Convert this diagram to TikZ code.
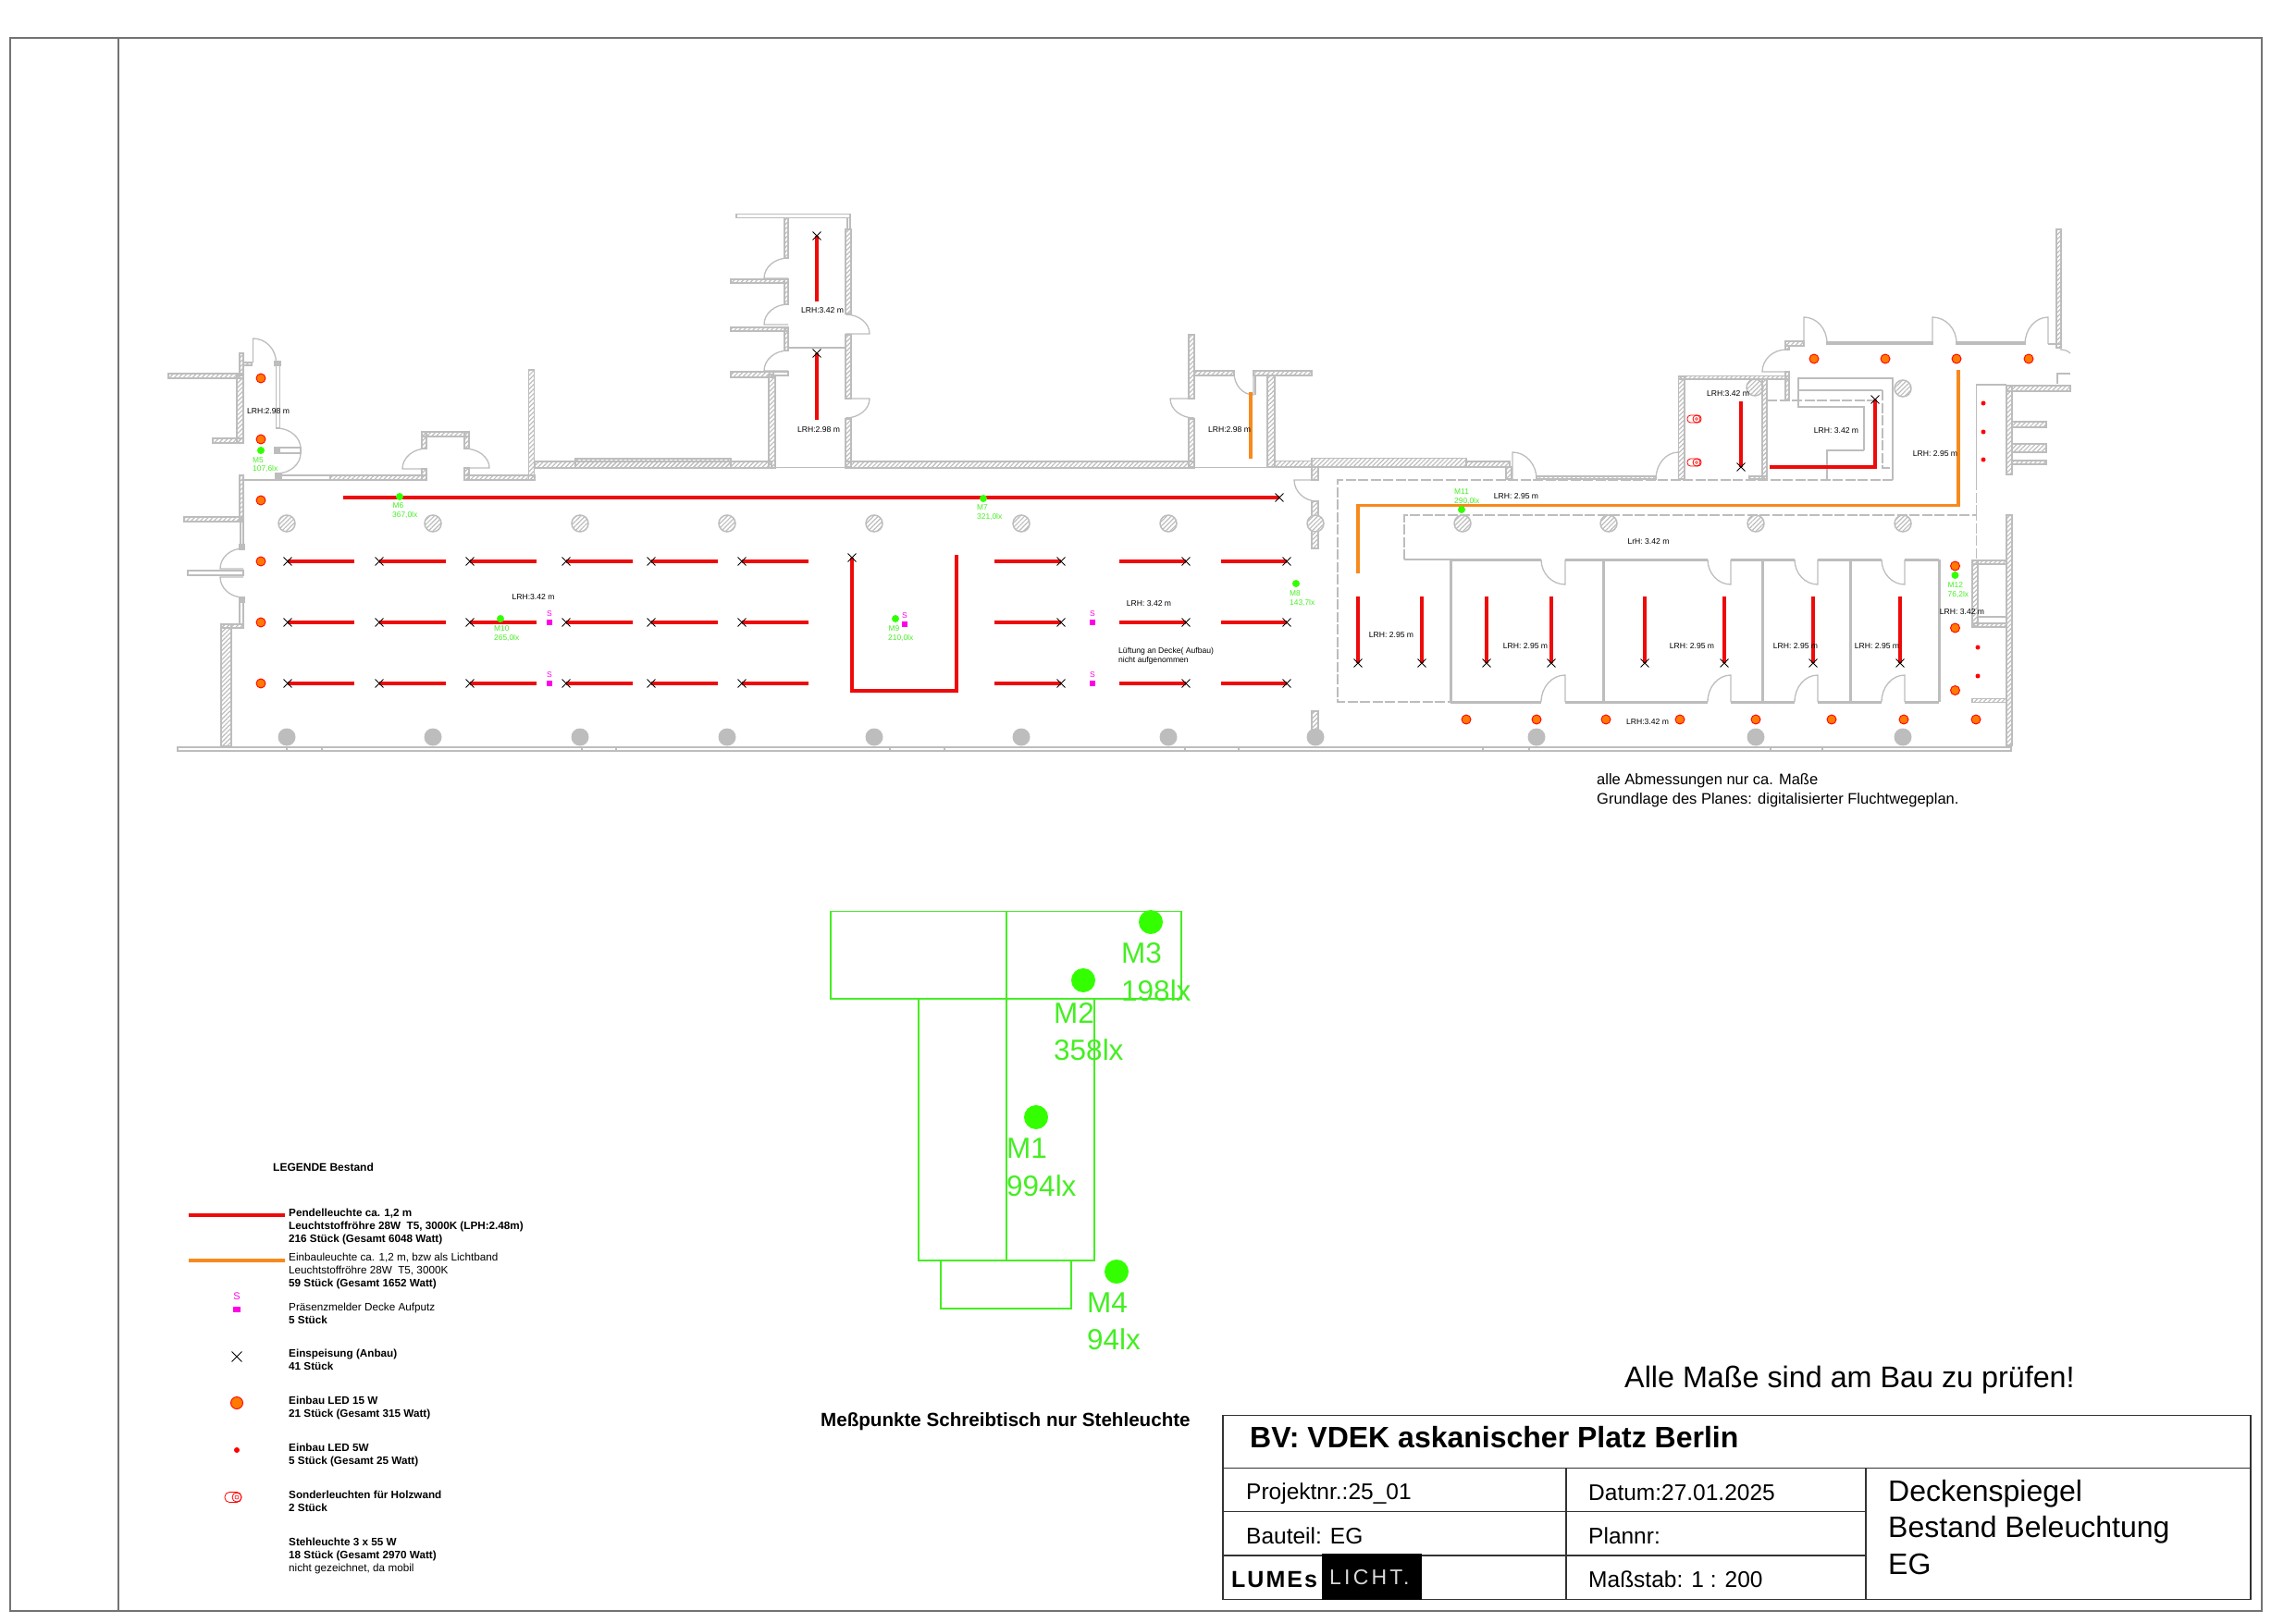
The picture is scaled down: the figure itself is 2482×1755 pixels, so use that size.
\documentclass[tikz,border=0pt]{standalone}
\usepackage{fontspec}
\setmainfont{Liberation Sans}
\usetikzlibrary{shapes,patterns.meta}
\definecolor{wallgray}{HTML}{BDBDBD}
\definecolor{lampred}{HTML}{EE0A0A}
\definecolor{lamporange}{HTML}{F78A1E}
\definecolor{ledorange}{HTML}{FF7A00}
\definecolor{mgreen}{HTML}{33FF00}
\definecolor{tgreen}{HTML}{44EE22}
\definecolor{smagenta}{HTML}{FF00E6}
\tikzstyle{wall}=[
	draw=wallgray,
	line width=1.5pt,
	pattern={Lines[angle=45,distance=3.5pt,line width=1.2pt]},
	pattern color=wallgray
]
\tikzstyle{pane}=[
	draw=wallgray,
	line width=1.4pt,
	fill=white
]
\tikzstyle{door}=[
	draw=wallgray,
	line width=1.3pt
]
\tikzstyle{thinline}=[
	draw=wallgray,
	line width=1.5pt
]
\tikzstyle{zone}=[
	draw=wallgray,
	line width=1.5pt,
	dash pattern=on 11pt off 2.5pt
]
\tikzstyle{office}=[
	draw=wallgray,
	line width=3pt
]
\tikzstyle{pendel}=[
	draw=lampred,
	line width=3.6pt
]
\tikzstyle{einbau}=[
	draw=lamporange,
	line width=3.6pt
]
\tikzstyle{feed}=[
	cross out,
	draw=black,
	line width=0.9pt,
	minimum size=8pt,
	inner sep=0pt
]
\tikzstyle{led}=[
	circle,
	draw=red,
	fill=ledorange,
	line width=0.9pt,
	minimum size=10pt,
	inner sep=0pt
]
\tikzstyle{dotled}=[
	circle,
	fill=red,
	minimum size=5pt,
	inner sep=0pt
]
\tikzstyle{hatchcol}=[
	circle,
	draw=wallgray,
	line width=1.5pt,
	minimum size=18pt,
	inner sep=0pt,
	pattern={Lines[angle=45,distance=3.5pt,line width=1.2pt]},
	pattern color=wallgray
]
\tikzstyle{fullcol}=[
	circle,
	fill=wallgray,
	minimum size=19pt,
	inner sep=0pt
]
\tikzstyle{mdot}=[
	circle,
	fill=mgreen,
	minimum size=8pt,
	inner sep=0pt
]
\tikzstyle{bigdot}=[
	circle,
	fill=mgreen,
	minimum size=26pt,
	inner sep=0pt
]
\tikzstyle{sensor}=[
	fill=smagenta,
	minimum size=6pt,
	inner sep=0pt
]
\tikzstyle{slabel}=[
	text=smagenta,
	inner sep=0pt,
	font=\fontsize{8.5}{8.5}\selectfont
]
\tikzstyle{mlabel}=[
	text=tgreen,
	anchor=west,
	inner sep=0pt,
	yshift=-1.5pt,
	font=\fontsize{8.4}{8.4}\selectfont
]
\tikzstyle{biglabel}=[
	text=tgreen,
	anchor=west,
	inner sep=0pt,
	yshift=-2pt,
	font=\fontsize{31.5}{31.5}\selectfont
]
\tikzstyle{lrh}=[
	inner sep=0pt,
	yshift=-1.5pt,
	font=\fontsize{8.6}{8.6}\selectfont
]
\tikzstyle{legtext}=[
	anchor=north west,
	align=left,
	inner sep=0pt,
	yshift=-2pt,
	font=\fontsize{11.7}{14}\selectfont
]
\tikzstyle{cell}=[
	anchor=west,
	inner sep=0pt,
	font=\fontsize{24.5}{24.5}\selectfont
]
\tikzstyle{desk}=[
	draw=tgreen,
	line width=1.2pt
]
\tikzstyle{block}=[
	draw=black!80,
	line width=1.3pt
]
\begin{document}
\begin{tikzpicture}[x=1pt,y=-1pt]
\useasboundingbox (0,0) rectangle (2482,1755);

\draw[line width=1.5pt,draw=black!55] (11,41) rectangle (2445,1742);
\draw[line width=1.5pt,draw=black!55] (128,41) -- (128,1742);

\draw[wall] (182,404) rectangle (263,409);
\draw[wall] (256,406) rectangle (263,479);
\draw[wall] (230,474) rectangle (263,479);
\draw[wall] (259,382) rectangle (263,405);
\draw[wall] (263,392) rectangle (272,395);
\draw[pane] (298.5,391.5) rectangle (302.5,463);
\draw[door] (273.5,392) -- ++(0,-26) arc[start angle=-90,end angle=0,x radius=25,y radius=26];
\draw[door] (299,485) -- ++(26,0) arc[start angle=0,end angle=-90,x radius=26,y radius=22];
\draw[door] (299,490) -- ++(26,0) arc[start angle=0,end angle=90,x radius=26,y radius=22];
\draw[pane] (299,484) rectangle (325,490);
\draw[thinline,fill=wallgray] (298,512) rectangle (304,519);
\draw[thinline,fill=wallgray] (297,391) rectangle (303,395);
\draw[thinline,fill=wallgray] (297,484) rectangle (302,490);
\draw[pane] (304,514) rectangle (357,519);
\draw[wall] (357,514) rectangle (461,519);
\draw[thinline] (261,519) -- (299,519);
\draw[wall] (259,514) rectangle (263,564);
\draw[wall] (199,559) rectangle (261,564);
\draw[pane] (260,564) rectangle (263,592);
\draw[door] (263,615) -- ++(-25,0) arc[start angle=180,end angle=270,x radius=25,y radius=22];
\draw[door] (263,624) -- ++(-25,0) arc[start angle=180,end angle=90,x radius=25,y radius=22];
\draw[pane] (203,617) rectangle (263,622);
\draw[thinline,fill=wallgray] (259,589) rectangle (264,594);
\draw[thinline,fill=wallgray] (259,646) rectangle (264,651);
\draw[pane] (259,651) rectangle (263,675);
\draw[wall] (239,675) rectangle (263,679);
\draw[wall] (239,675) rectangle (250,807);
\draw[pane] (192,808) rectangle (2174,812);
\draw[thinline] (310,808) -- (310,812);
\draw[thinline] (348,808) -- (348,812);
\draw[thinline] (629,808) -- (629,812);
\draw[thinline] (666,808) -- (666,812);
\draw[thinline] (962,808) -- (962,812);
\draw[thinline] (1021,808) -- (1021,812);
\draw[thinline] (1281,808) -- (1281,812);
\draw[thinline] (1339,808) -- (1339,812);
\draw[thinline] (1603,808) -- (1603,812);
\draw[thinline] (1653,808) -- (1653,812);
\draw[thinline] (1914,808) -- (1914,812);
\draw[thinline] (1970,808) -- (1970,812);

\draw[wall] (456,467) rectangle (461,485);
\draw[wall] (456,507) rectangle (461,519);
\draw[wall] (456,467) rectangle (507,472);
\draw[wall] (502,467) rectangle (507,485);
\draw[door] (461,507) -- ++(-26,0) arc[start angle=180,end angle=270,x radius=26,y radius=22];
\draw[door] (502,506) -- ++(27,0) arc[start angle=0,end angle=-90,x radius=27,y radius=21];
\draw[wall] (502,506) rectangle (507,519);
\draw[wall] (502,514) rectangle (578,519);
\draw[wall] (571.5,400) rectangle (577.5,519);
\draw[wall] (578,499) rectangle (834,506);
\draw[wall] (622,496) rectangle (790,506);
\draw[wall] (831,405) rectangle (838,506);
\draw[wall] (790,402) rectangle (836,408);
\draw[pane] (836,402) rectangle (852,406);
\draw[wall] (790,354) rectangle (852,358);
\draw[wall] (790,302) rectangle (852,306);
\draw[wall] (848,234) rectangle (852,279);
\draw[wall] (848,302) rectangle (852,329);
\draw[wall] (848,354) rectangle (852,379);
\draw[door] (852,301) -- ++(-26,0) arc[start angle=180,end angle=270,x radius=26,y radius=22];
\draw[door] (852,351) -- ++(-26,0) arc[start angle=180,end angle=270,x radius=26,y radius=22];
\draw[door] (852,401) -- ++(-26,0) arc[start angle=180,end angle=270,x radius=26,y radius=22];
\draw[pane] (796,231.5) rectangle (919,235.5);
\draw[pane] (916,235.5) rectangle (919,248);
\draw[wall] (914,248) rectangle (920,339);
\draw[door] (914,361) -- ++(26,0) arc[start angle=0,end angle=-90,x radius=26,y radius=21];
\draw[wall] (914,362) rectangle (920,431);
\draw[thinline] (852,376) -- (914,376);
\draw[door] (914,431) -- ++(26,0) arc[start angle=0,end angle=90,x radius=26,y radius=21];
\draw[wall] (914,453) rectangle (920,505);
\draw[wall] (914,499) rectangle (1291,506);
\draw[thinline] (838,505.5) -- (914,505.5);

\draw[wall] (1285,362) rectangle (1291,431);
\draw[door] (1291,431) -- ++(-26,0) arc[start angle=180,end angle=90,x radius=26,y radius=21];
\draw[wall] (1285,453) rectangle (1291,505);
\draw[wall] (1291,401) rectangle (1334,406);
\draw[door] (1355,403) -- ++(0,24) arc[start angle=90,end angle=180,x radius=21,y radius=24];
\draw[thinline] (1357,406) -- (1357,427);
\draw[wall] (1355,401) rectangle (1418,406);
\draw[wall] (1370,406) rectangle (1378,505);
\draw[thinline] (1291,505.5) -- (1369,505.5);
\draw[wall] (1378,498.5) rectangle (1418,505);
\draw[wall] (1418,495.5) rectangle (1585,505);
\draw[wall] (1585,499) rectangle (1632,505);
\draw[wall] (1418,505) rectangle (1425,519);
\draw[wall] (1628,505) rectangle (1634,518);
\draw[door] (1424,519) -- ++(-25,0) arc[start angle=180,end angle=90,x radius=25,y radius=23];
\draw[wall] (1418,542) rectangle (1425,593);
\node[fullcol,fill=white] (c0a) at (1422,566) {};
\node[hatchcol] (c0) at (1422,566) {};
\draw[wall] (1418,769) rectangle (1425,797);

\draw[door] (1635,518) -- ++(0,-29) arc[start angle=-90,end angle=0,x radius=26,y radius=29];
\draw[wall] (1661,515) rectangle (1790,518);
\draw[door] (1814.5,518) -- ++(0,-29) arc[start angle=-90,end angle=-180,x radius=24.5,y radius=29];
\draw[wall] (1814.5,407) rectangle (1821,518);
\draw[wall] (1814.5,406.5) rectangle (1934,410);
\draw[wall] (1905,410) rectangle (1910,518);
\draw[wall] (1891,515) rectangle (1910,518);
\draw[wall] (1930,369) rectangle (1950,374);
\draw[wall] (1930,374) rectangle (1934,378);
\draw[door] (1931,402) -- ++(-26,0) arc[start angle=180,end angle=270,x radius=26,y radius=24];
\draw[wall] (1930,402) rectangle (1934,433);
\draw[door] (1950,371) -- ++(0,-28) arc[start angle=-90,end angle=0,x radius=25,y radius=28];
\draw[pane] (1975,370) rectangle (2089,372);
\draw[door] (2089,371) -- ++(0,-28) arc[start angle=-90,end angle=0,x radius=26,y radius=28];
\draw[pane] (2115,370) rectangle (2189,372);
\draw[door] (2214,372) -- ++(0,-29) arc[start angle=-90,end angle=-180,x radius=25,y radius=29];
\draw[wall] (2223,248) rectangle (2228,376);
\draw[thinline] (2214,372) -- (2227,372);
\draw[door] (2227,378) .. controls (2231,378) and (2235,379) .. (2238,382);
\draw[thinline] (2224,415) -- (2224,404) -- (2238,404);
\draw[wall] (2169,417) rectangle (2238,423);
\draw[wall] (2169,417) rectangle (2175,513);
\draw[wall] (2175,456) rectangle (2212,462);
\draw[wall] (2175,480) rectangle (2212,489);
\draw[wall] (2175,498) rectangle (2212,502);
\draw[thinline] (2169,416) -- (2136.5,416) -- (2136.5,519);
\draw[zone] (2046,519) -- (1446,519) -- (1446,759) -- (1568,759);
\draw[zone] (1518,605) -- (1518,557) -- (2136.5,557) -- (2136.5,605);
\draw[thinline] (1518,605) -- (1568,605);
\draw[zone] (2136.5,519) -- (2136.5,557);

\draw[office] (1568,605) -- (1666,605);
\draw[office] (1692,605) -- (1846,605);
\draw[office] (1871,605) -- (1940,605);
\draw[office] (1965,605) -- (2034,605);
\draw[office] (2059,605) -- (2096,605);
\draw[office] (1568,759) -- (1666,759);
\draw[office] (1692,759) -- (1846,759);
\draw[office] (1871,759) -- (1940,759);
\draw[office] (1965,759) -- (2034,759);
\draw[office] (2059,759) -- (2096,759);
\draw[office] (1568,605) -- (1568,759);
\draw[office] (1733,605) -- (1733,759);
\draw[office] (1905,605) -- (1905,759);
\draw[office] (2000,605) -- (2000,759);
\draw[office] (2096,605) -- (2096,759);
\draw[door] (1692,605) -- ++(0,27) arc[start angle=90,end angle=180,x radius=26,y radius=27];
\draw[door] (1871,605) -- ++(0,27) arc[start angle=90,end angle=180,x radius=25,y radius=27];
\draw[door] (1965,605) -- ++(0,27) arc[start angle=90,end angle=180,x radius=25,y radius=27];
\draw[door] (2059,605) -- ++(0,27) arc[start angle=90,end angle=180,x radius=25,y radius=27];
\draw[door] (1692,759) -- ++(0,-29) arc[start angle=-90,end angle=-180,x radius=26,y radius=29];
\draw[door] (1871,759) -- ++(0,-29) arc[start angle=-90,end angle=-180,x radius=25,y radius=29];
\draw[door] (1965,759) -- ++(0,-29) arc[start angle=-90,end angle=-180,x radius=25,y radius=29];
\draw[door] (2059,759) -- ++(0,-29) arc[start angle=-90,end angle=-180,x radius=25,y radius=29];

\draw[thinline] (2015,487) -- (2015,440) -- (1944,440) -- (1944,409) -- (2046,409) -- (2046,519);
\draw[thinline] (2015,487) -- (1975,487) -- (1975,519);
\draw[thinline] (1944,422) -- (2035,422);
\draw[zone] (2035,422) -- (2035,506) -- (2046,506);
\draw[zone] (1910,433) -- (2026,433);

\draw[wall] (2132,606) rectangle (2169,610);
\draw[wall] (2132,606) rectangle (2138,677);
\draw[pane] (2138,667) rectangle (2169,674);
\draw[wall] (2132,674) rectangle (2169,678);
\draw[wall] (2132,755.5) rectangle (2169,759.5);
\draw[wall] (2169,557) rectangle (2175,806);

\node[hatchcol] (c1) at (310,566) {};
\node[hatchcol] (c2) at (468,566) {};
\node[hatchcol] (c3) at (627,566) {};
\node[hatchcol] (c4) at (786,566) {};
\node[hatchcol] (c5) at (945,566) {};
\node[hatchcol] (c6) at (1104,566) {};
\node[hatchcol] (c7) at (1263,566) {};
\node[hatchcol] (c8) at (1581,566) {};
\node[hatchcol] (c9) at (1739,566) {};
\node[hatchcol] (c10) at (1898,566) {};
\node[hatchcol] (c11) at (2057,566) {};
\node[hatchcol] (c12) at (1897,419) {};
\node[hatchcol] (c13) at (2057,420) {};
\node[fullcol] (f1) at (310,797) {};
\node[fullcol] (f2) at (468,797) {};
\node[fullcol] (f3) at (627,797) {};
\node[fullcol] (f4) at (786,797) {};
\node[fullcol] (f5) at (945,797) {};
\node[fullcol] (f6) at (1104,797) {};
\node[fullcol] (f7) at (1263,797) {};
\node[fullcol] (f8) at (1422,797) {};
\node[fullcol] (f9) at (1661,797) {};
\node[fullcol] (f10) at (1898,797) {};
\node[fullcol] (f11) at (2057,797) {};

\draw[pendel] (311,607) -- (383,607);
\draw[pendel] (410,607) -- (482,607);
\draw[pendel] (508,607) -- (580,607);
\draw[pendel] (612,607) -- (684,607);
\draw[pendel] (704,607) -- (776,607);
\draw[pendel] (802,607) -- (874,607);
\draw[pendel] (1075,607) -- (1147,607);
\draw[pendel] (1210,607) -- (1282,607);
\draw[pendel] (1320,607) -- (1391,607);
\draw[pendel] (311,673) -- (383,673);
\draw[pendel] (410,673) -- (482,673);
\draw[pendel] (508,673) -- (580,673);
\draw[pendel] (612,673) -- (684,673);
\draw[pendel] (704,673) -- (776,673);
\draw[pendel] (802,673) -- (874,673);
\draw[pendel] (1075,673) -- (1147,673);
\draw[pendel] (1210,673) -- (1282,673);
\draw[pendel] (1320,673) -- (1391,673);
\draw[pendel] (311,739) -- (383,739);
\draw[pendel] (410,739) -- (482,739);
\draw[pendel] (508,739) -- (580,739);
\draw[pendel] (612,739) -- (684,739);
\draw[pendel] (704,739) -- (776,739);
\draw[pendel] (802,739) -- (874,739);
\draw[pendel] (1075,739) -- (1147,739);
\draw[pendel] (1210,739) -- (1282,739);
\draw[pendel] (1320,739) -- (1391,739);
\draw[pendel] (371,538) -- (1383,538);
\draw[pendel,line join=miter] (921,603) -- (921,747) -- (1034,747) -- (1034,600);
\draw[pendel] (883,255) -- (883,326);
\draw[pendel] (883,382) -- (883,454);
\draw[pendel] (1468,645) -- (1468,717);
\draw[pendel] (1537,645) -- (1537,717);
\draw[pendel] (1607,645) -- (1607,717);
\draw[pendel] (1677,645) -- (1677,717);
\draw[pendel] (1778,645) -- (1778,717);
\draw[pendel] (1864,645) -- (1864,717);
\draw[pendel] (1960,645) -- (1960,717);
\draw[pendel] (2054,645) -- (2054,717);
\draw[pendel] (1882,434) -- (1882,505);
\draw[pendel,line join=miter] (2027,432) -- (2027,505) -- (1913,505);
\draw[einbau,line join=miter] (2117,400) -- (2117,546.5) -- (1468,546.5) -- (1468,620);
\draw[einbau] (1352,424) -- (1352,496);

\node[feed] (x1) at (311,607) {};
\node[feed] (x2) at (410,607) {};
\node[feed] (x3) at (508,607) {};
\node[feed] (x4) at (612,607) {};
\node[feed] (x5) at (704,607) {};
\node[feed] (x6) at (802,607) {};
\node[feed] (x7) at (1147,607) {};
\node[feed] (x8) at (1282,607) {};
\node[feed] (x9) at (1391,607) {};
\node[feed] (x10) at (311,673) {};
\node[feed] (x11) at (410,673) {};
\node[feed] (x12) at (508,673) {};
\node[feed] (x13) at (612,673) {};
\node[feed] (x14) at (704,673) {};
\node[feed] (x15) at (802,673) {};
\node[feed] (x16) at (1147,673) {};
\node[feed] (x17) at (1282,673) {};
\node[feed] (x18) at (1391,673) {};
\node[feed] (x19) at (311,739) {};
\node[feed] (x20) at (410,739) {};
\node[feed] (x21) at (508,739) {};
\node[feed] (x22) at (612,739) {};
\node[feed] (x23) at (704,739) {};
\node[feed] (x24) at (802,739) {};
\node[feed] (x25) at (1147,739) {};
\node[feed] (x26) at (1282,739) {};
\node[feed] (x27) at (1391,739) {};
\node[feed] (x28) at (1383,538) {};
\node[feed] (x29) at (921,603) {};
\node[feed] (x30) at (883,255) {};
\node[feed] (x31) at (883,382) {};
\node[feed] (x32) at (1468,717) {};
\node[feed] (x33) at (1537,717) {};
\node[feed] (x34) at (1607,717) {};
\node[feed] (x35) at (1677,717) {};
\node[feed] (x36) at (1778,717) {};
\node[feed] (x37) at (1864,717) {};
\node[feed] (x38) at (1960,717) {};
\node[feed] (x39) at (2054,717) {};
\node[feed] (x40) at (1882,505) {};
\node[feed] (x41) at (2027,432) {};

\node[led] (l1) at (282,409) {};
\node[led] (l2) at (282,475) {};
\node[led] (l3) at (282,541) {};
\node[led] (l4) at (282,607) {};
\node[led] (l5) at (282,673) {};
\node[led] (l6) at (282,739) {};
\node[led] (l7) at (1961,388) {};
\node[led] (l8) at (2038,388) {};
\node[led] (l9) at (2115,388) {};
\node[led] (l10) at (2193,388) {};
\node[led] (l11) at (1585,778) {};
\node[led] (l12) at (1661,778) {};
\node[led] (l13) at (1736,778) {};
\node[led] (l14) at (1816,778) {};
\node[led] (l15) at (1898,778) {};
\node[led] (l16) at (1980,778) {};
\node[led] (l17) at (2058,778) {};
\node[led] (l18) at (2136,778) {};
\node[led] (l19) at (2113.5,612) {};
\node[led] (l20) at (2113.5,679) {};
\node[led] (l21) at (2113.5,746.5) {};
\node[dotled] (d1) at (2144,436) {};
\node[dotled] (d2) at (2144,467) {};
\node[dotled] (d3) at (2144,497) {};
\node[dotled] (d4) at (2138,700) {};
\node[dotled] (d5) at (2138,731) {};
\draw[draw=red,line width=0.8pt,rounded corners=3.5pt] (1824,449) rectangle (1839,457);
\node[circle,draw=red,line width=0.8pt,minimum size=8pt,inner sep=0pt] (h1) at (1834,453) {};
\node[circle,draw=red,line width=0.6pt,minimum size=3pt,inner sep=0pt] (h2) at (1834,453) {};
\draw[draw=red,line width=0.8pt,rounded corners=3.5pt] (1824,496) rectangle (1839,504);
\node[circle,draw=red,line width=0.8pt,minimum size=8pt,inner sep=0pt] (h3) at (1834,500) {};
\node[circle,draw=red,line width=0.6pt,minimum size=3pt,inner sep=0pt] (h4) at (1834,500) {};

\node[sensor] (s1) at (594,673) {};
\node[slabel] (s1t) at (594,664) {S};
\node[sensor] (s2) at (594,739) {};
\node[slabel] (s2t) at (594,730) {S};
\node[sensor] (s3) at (1181,673) {};
\node[slabel] (s3t) at (1181,664) {S};
\node[sensor] (s4) at (1181,739) {};
\node[slabel] (s4t) at (1181,730) {S};
\node[sensor] (s5) at (978,675) {};
\node[slabel] (s5t) at (978,666) {S};

\node[mdot] (m5) at (282,487) {};
\node[mlabel] (m5a) at (273,496) {M5};
\node[mlabel] (m5b) at (273,505) {107,6lx};
\node[mdot] (m6) at (432,537) {};
\node[mlabel] (m6a) at (424.5,545) {M6};
\node[mlabel] (m6b) at (424,555) {367,0lx};
\node[mdot] (m10) at (541,669) {};
\node[mlabel] (m10a) at (534,678) {M10};
\node[mlabel] (m10b) at (534,688) {265,0lx};
\node[mdot] (m7) at (1063,539) {};
\node[mlabel] (m7a) at (1056,547) {M7};
\node[mlabel] (m7b) at (1056,557) {321,0lx};
\node[mdot] (m9) at (968,669) {};
\node[mlabel] (m9a) at (960.5,678) {M9};
\node[mlabel] (m9b) at (960,688) {210,0lx};
\node[mdot] (m8) at (1401,631) {};
\node[mlabel] (m8a) at (1394,640) {M8};
\node[mlabel] (m8b) at (1394,650) {143,7lx};
\node[mdot] (m11) at (1580,551) {};
\node[mlabel] (m11a) at (1572,530) {M11};
\node[mlabel] (m11b) at (1572,540) {290,0lx};
\node[mdot] (m12) at (2113.5,622) {};
\node[mlabel] (m12a) at (2105.5,631) {M12};
\node[mlabel] (m12b) at (2105.5,641) {76,2lx};

\node[lrh] (r1) at (290,443) {LRH:2.98 m};
\node[lrh] (r2) at (889,334) {LRH:3.42 m};
\node[lrh] (r3) at (885,463) {LRH:2.98 m};
\node[lrh] (r4) at (576.5,644) {LRH:3.42 m};
\node[lrh] (r5) at (1329,463) {LRH:2.98 m};
\node[lrh] (r6) at (1242,651) {LRH: 3.42 m};
\node[lrh] (r7) at (1868,424) {LRH:3.42 m};
\node[lrh] (r8) at (1985,464) {LRH: 3.42 m};
\node[lrh] (r9) at (2092,489) {LRH: 2.95 m};
\node[lrh] (r10) at (1639,535) {LRH: 2.95 m};
\node[lrh] (r11) at (1782,584) {LrH: 3.42 m};
\node[lrh] (r12) at (1504,685) {LRH: 2.95 m};
\node[lrh] (r13) at (1649,697) {LRH: 2.95 m};
\node[lrh] (r14) at (1829,697) {LRH: 2.95 m};
\node[lrh] (r15) at (1941,697) {LRH: 2.95 m};
\node[lrh] (r16) at (2029,697) {LRH: 2.95 m};
\node[lrh] (r17) at (2121,660) {LRH: 3.42 m};
\node[lrh] (r18) at (1781,779) {LRH:3.42 m};
\node[lrh,anchor=west] (vent1) at (1209,703) {Lüftung an Decke( Aufbau)};
\node[lrh,anchor=west] (vent2) at (1209,713) {nicht aufgenommen};

\node[anchor=west,inner sep=0pt,font=\fontsize{16.5}{16.5}\selectfont] (note1) at (1726,844.5) {alle Abmessungen nur ca. Maße};
\node[anchor=west,inner sep=0pt,font=\fontsize{16.5}{16.5}\selectfont] (note2) at (1726,865.5) {Grundlage des Planes: digitalisierter Fluchtwegeplan.};

\draw[desk] (898,985.5) rectangle (1277,1080);
\draw[desk] (993,1080) rectangle (1183,1363);
\draw[desk] (1088,985.5) -- (1088,1363);
\draw[desk] (1017,1363) rectangle (1158,1415);
\node[bigdot] (m3) at (1244,997) {};
\node[biglabel] (m3a) at (1212,1029) {M3};
\node[biglabel] (m3b) at (1212,1069) {198lx};
\node[bigdot] (m2) at (1171,1060) {};
\node[biglabel] (m2a) at (1139,1093) {M2};
\node[biglabel] (m2b) at (1139,1133) {358lx};
\node[bigdot] (m1) at (1120,1208) {};
\node[biglabel] (m1a) at (1088,1240) {M1};
\node[biglabel] (m1b) at (1088,1280) {994lx};
\node[bigdot] (m4) at (1207,1375) {};
\node[biglabel] (m4a) at (1175,1407) {M4};
\node[biglabel] (m4b) at (1175,1446) {94lx};
\node[anchor=west,inner sep=0pt,font=\bfseries\fontsize{20.6}{20.6}\selectfont] (desklabel) at (887,1537) {Meßpunkte Schreibtisch nur Stehleuchte};

\node[anchor=west,inner sep=0pt,font=\bfseries\fontsize{12}{12}\selectfont] (legend) at (295,1262) {LEGENDE Bestand};
\draw[pendel,line width=4.5pt] (204,1314) -- (308,1314);
\draw[einbau,line width=4.5pt] (204,1363) -- (308,1363);
\node[legtext,font=\bfseries\fontsize{11.7}{14}\selectfont] (t1) at (312,1305) {Pendelleuchte ca. 1,2 m\\Leuchtstoffröhre 28W\ \ T5, 3000K (LPH:2.48m)\\216 Stück (Gesamt 6048 Watt)};
\node[legtext] (t2) at (312,1353) {Einbauleuchte ca. 1,2 m, bzw als Lichtband\\Leuchtstoffröhre 28W\ \ T5, 3000K\\\textbf{59 Stück (Gesamt 1652 Watt)}};
\node[slabel,font=\fontsize{11}{11}\selectfont] (leg3) at (256,1402) {S};
\node[sensor,minimum width=8pt,minimum height=6pt] (leg4) at (256,1416) {};
\node[legtext] (t3) at (312,1407) {Präsenzmelder Decke Aufputz\\\textbf{5 Stück}};
\node[feed,minimum size=10pt] (leg5) at (256,1467) {};
\node[legtext,font=\bfseries\fontsize{11.7}{14}\selectfont] (t4) at (312,1457) {Einspeisung (Anbau)\\41 Stück};
\node[led,minimum size=13pt] (leg6) at (256,1517) {};
\node[legtext,font=\bfseries\fontsize{11.7}{14}\selectfont] (t5) at (312,1508) {Einbau LED 15 W\\21 Stück (Gesamt 315 Watt)};
\node[dotled,minimum size=6pt] (leg7) at (256,1568) {};
\node[legtext,font=\bfseries\fontsize{11.7}{14}\selectfont] (t6) at (312,1559) {Einbau LED 5W\\5 Stück (Gesamt 25 Watt)};
\draw[draw=red,line width=0.8pt,rounded corners=5pt] (243,1613.5) rectangle (261,1624.5);
\node[circle,draw=red,line width=0.8pt,minimum size=10pt,inner sep=0pt] (leg8) at (256,1619) {};
\node[circle,draw=red,line width=0.6pt,minimum size=4pt,inner sep=0pt] (leg9) at (256,1619) {};
\node[legtext,font=\bfseries\fontsize{11.7}{14}\selectfont] (t7) at (312,1610) {Sonderleuchten für Holzwand\\2 Stück};
\node[legtext] (t8) at (312,1661) {\textbf{Stehleuchte 3 x 55 W}\\\textbf{18 Stück (Gesamt 2970 Watt)}\\nicht gezeichnet, da mobil};

\node[anchor=west,inner sep=0pt,font=\fontsize{32.3}{32.3}\selectfont] (check) at (1756,1492) {Alle Maße sind am Bau zu prüfen!};
\draw[block,fill=white] (1322,1530.5) rectangle (2433,1729.5);
\draw[block] (1322,1587.5) -- (2433,1587.5);
\draw[block] (1322,1634.5) -- (2017,1634.5);
\draw[block] (1322,1682) -- (2017,1682);
\draw[block] (1693,1587.5) -- (1693,1729.5);
\draw[block] (2017,1587.5) -- (2017,1729.5);
\node[anchor=west,inner sep=0pt,font=\bfseries\fontsize{32}{32}\selectfont] (title) at (1351,1554) {BV: VDEK askanischer Platz Berlin};
\node[cell] (c11x) at (1347,1615) {Projektnr.:25\_01};
\node[cell] (c12x) at (1717,1614) {Datum:27.01.2025};
\node[cell] (c21x) at (1347,1661) {Bauteil: EG};
\node[cell] (c22x) at (1717,1661) {Plannr:};
\node[cell] (c32x) at (1717,1708) {Maßstab: 1 : 200};
\node[cell,font=\fontsize{32}{32}\selectfont] (plan1) at (2041,1615) {Deckenspiegel};
\node[cell,font=\fontsize{32}{32}\selectfont] (plan2) at (2041,1654) {Bestand Beleuchtung};
\node[cell,font=\fontsize{32}{32}\selectfont] (plan3) at (2041,1691) {EG};
\fill[black] (1429,1680) rectangle (1537,1730);
\node[cell,font=\bfseries\fontsize{25}{25}\selectfont\addfontfeature{LetterSpace=8}] (logo1) at (1331,1708) {LUMEs};
\node[cell,text=white!85!black,font=\fontsize{23}{23}\selectfont\addfontfeature{LetterSpace=14}] (logo2) at (1437,1706) {LICHT.};
\end{tikzpicture}
\end{document}
